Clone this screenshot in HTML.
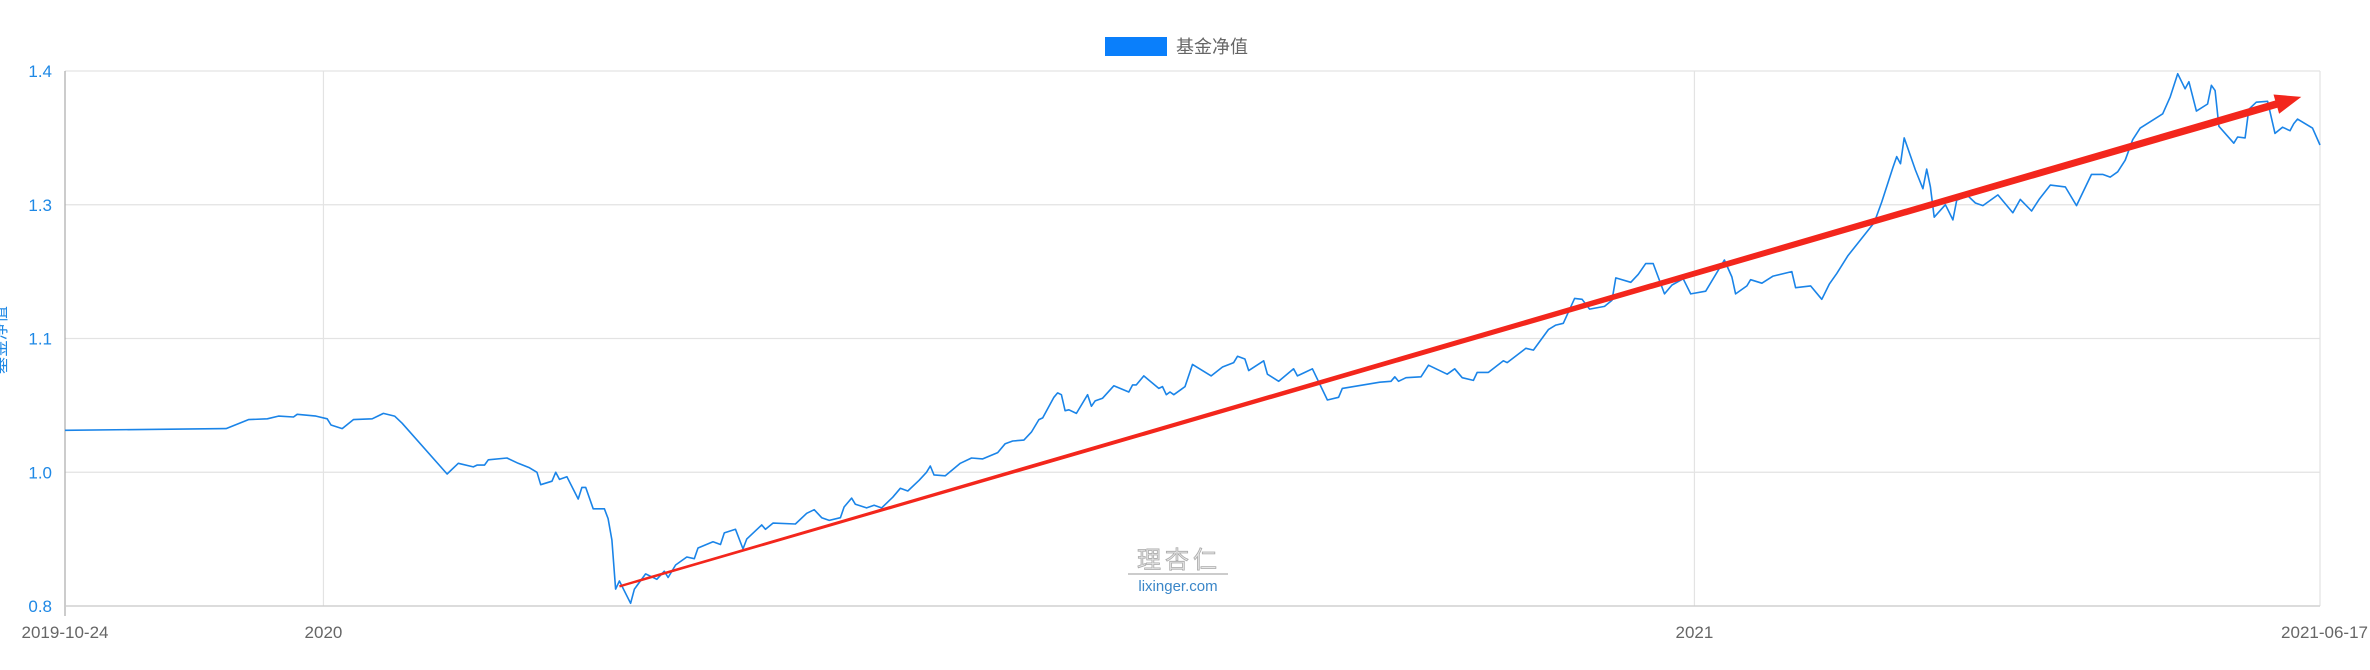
<!DOCTYPE html>
<html><head><meta charset="utf-8">
<style>
html,body{margin:0;padding:0;background:#fff;}
svg{display:block;font-family:"Liberation Sans","Noto Sans CJK SC",sans-serif;}
</style></head>
<body>
<svg id="chart" width="2370" height="670" viewBox="0 0 2370 670" xmlns="http://www.w3.org/2000/svg">
  <g id="grid"></g>
  <g id="yaxis"></g>
  <g id="xaxis"></g>
  <g>
    <rect x="1105" y="37" width="62" height="19" fill="#0a7ffb"/>
    <text x="1176" y="53" font-size="18" fill="#666">基金净值</text>
  </g>
  <text transform="translate(0,340) rotate(-90)" x="0" y="6" font-size="17" fill="#1e88e5" text-anchor="middle">基金净值</text>
  <g>
    <text x="1179" y="568" font-size="24" fill="#e8e8e8" stroke="#aaa" stroke-width="0.8" text-anchor="middle" letter-spacing="4">理杏仁</text>
    <line x1="1128" y1="574" x2="1228" y2="574" stroke="#999" stroke-width="1"/>
    <text x="1178" y="591" font-size="15" fill="#3a86c8" text-anchor="middle">lixinger.com</text>
  </g>
  <g id="series"></g>
  <g id="annot"></g>
</svg>
<script>
// ---- data ----
const yTickValues = [0.8, 0.95, 1.1, 1.25, 1.4];
const yTickLabels = ["0.8", "1.0", "1.1", "1.3", "1.4"];
const xTickDays = [0, 69, 435, 602];
const xTickLabels = ["2019-10-24", "2020", "2021", "2021-06-17"];
const navDays = [0,43,49,54,57,61,62,67,70,71,74,77,82,85,88,90,102,105,109,110,112,113,118,121,124,126,127,130,131,132,134,137,138,139,141,144,145,146,147,148,151,152,155,158,160,161,163,166,168,169,173,175,176,179,181,182,186,187,189,195,198,200,202,204,207,208,210,211,214,216,218,221,223,225,228,230,231,232,235,239,242,245,249,251,253,256,258,260,261,264,265,266,267,268,270,273,274,275,277,280,284,285,286,288,292,293,294,295,296,298,299,301,306,309,312,313,315,316,320,321,324,328,329,331,333,337,340,341,351,354,355,356,358,362,364,366,369,371,373,376,377,380,384,385,390,392,396,398,400,403,405,407,411,413,414,418,420,422,424,427,429,432,434,438,443,445,446,449,450,453,456,461,462,466,469,471,473,476,483,485,488,489,490,491,494,496,497,498,499,502,504,505,508,510,512,516,520,522,525,527,530,534,537,541,544,546,548,550,552,554,560,562,564,566,567,569,572,573,574,575,579,580,582,583,585,588,590,592,594,595,596,600,602];
const navValues = [0.997,0.999,1.009,1.010,1.013,1.012,1.015,1.013,1.010,1.003,0.999,1.009,1.010,1.016,1.013,1.005,0.948,0.960,0.956,0.958,0.958,0.964,0.966,0.960,0.955,0.950,0.936,0.940,0.950,0.942,0.945,0.920,0.933,0.933,0.909,0.909,0.898,0.874,0.819,0.828,0.803,0.819,0.836,0.830,0.839,0.832,0.846,0.855,0.853,0.865,0.872,0.869,0.882,0.886,0.864,0.875,0.891,0.886,0.893,0.892,0.904,0.908,0.899,0.896,0.899,0.911,0.921,0.914,0.910,0.913,0.910,0.922,0.932,0.929,0.941,0.950,0.957,0.947,0.946,0.960,0.966,0.965,0.972,0.982,0.985,0.986,0.995,1.009,1.011,1.034,1.039,1.037,1.019,1.020,1.016,1.037,1.024,1.030,1.033,1.047,1.040,1.048,1.048,1.058,1.044,1.046,1.037,1.040,1.037,1.043,1.046,1.071,1.058,1.068,1.073,1.080,1.077,1.064,1.075,1.060,1.052,1.066,1.058,1.062,1.066,1.031,1.034,1.044,1.051,1.052,1.057,1.052,1.056,1.057,1.070,1.066,1.060,1.066,1.056,1.053,1.062,1.062,1.075,1.073,1.089,1.087,1.110,1.115,1.117,1.145,1.144,1.133,1.136,1.143,1.168,1.163,1.172,1.184,1.184,1.150,1.160,1.167,1.150,1.153,1.188,1.169,1.150,1.159,1.166,1.162,1.170,1.175,1.157,1.159,1.144,1.161,1.173,1.193,1.230,1.253,1.292,1.304,1.296,1.325,1.289,1.268,1.290,1.270,1.236,1.250,1.233,1.255,1.260,1.252,1.249,1.261,1.241,1.256,1.243,1.256,1.272,1.270,1.249,1.284,1.284,1.281,1.287,1.300,1.323,1.336,1.352,1.371,1.397,1.380,1.388,1.355,1.363,1.384,1.378,1.338,1.319,1.326,1.325,1.357,1.365,1.366,1.330,1.337,1.333,1.341,1.346,1.336,1.317];
const arrowDays = [148, 597];
const arrowValues = [0.822, 1.371];

// ---- scales ----
const X0 = 65, X1 = 2320, Y0 = 606, Y1 = 71;
const xScale = d => X0 + (d - 0) / (602 - 0) * (X1 - X0);
const yScale = v => Y0 - (v - 0.8) / (1.4 - 0.8) * (Y0 - Y1);
const NS = "http://www.w3.org/2000/svg";
function mk(tag, attrs, parent){ const e=document.createElementNS(NS,tag); for(const k in attrs) e.setAttribute(k,attrs[k]); parent.appendChild(e); return e; }

const grid = document.getElementById('grid');
const yaxis = document.getElementById('yaxis');
const xaxis = document.getElementById('xaxis');
yTickValues.forEach((v,i)=>{
  const y = yScale(v);
  const l = mk('line',{x1:X0,x2:X1,y1:y,y2:y,stroke:'#e3e3e3','stroke-width':1.2},grid);
  
  
  const t = mk('text',{x:X0-13,y:y+6,'font-size':17,fill:'#1e88e5','text-anchor':'end'},yaxis);
  t.textContent = yTickLabels[i];
  
  
});
xTickDays.forEach((d,i)=>{
  const x = xScale(d);
  if(i>0){
    const l = mk('line',{x1:x,x2:x,y1:Y1,y2:Y0,stroke:'#e3e3e3','stroke-width':1.2},grid);
    
    
  }
  let anchor = 'middle';
  if(i===xTickLabels.length-1) anchor='end';
  const t = mk('text',{x:i===xTickLabels.length-1?2368:x,y:638,'font-size':17,fill:'#666','text-anchor':anchor},xaxis);
  t.textContent = xTickLabels[i];
  
  
});
const ax = mk('line',{x1:X0,x2:X0,y1:Y1,y2:Y0+10,stroke:'#aaa','stroke-width':1.2},yaxis);


const bx = mk('line',{x1:X0,x2:X1,y1:Y0,y2:Y0,stroke:'#ccc','stroke-width':1.2},xaxis);



// series
const pts = navDays.map((d,i)=>xScale(d).toFixed(1)+','+yScale(navValues[i]).toFixed(1)).join(' ');
const line = mk('polyline',{points:pts,fill:'none',stroke:'#1a84e8','stroke-width':1.6,'stroke-linejoin':'round'},document.getElementById('series'));



// trend arrow (tapered)
const ax0=xScale(arrowDays[0]), ay0=yScale(arrowValues[0]), ax1=xScale(arrowDays[1]), ay1=yScale(arrowValues[1]);
const dx=ax1-ax0, dy=ay1-ay0, L=Math.hypot(dx,dy), ux=dx/L, uy=dy/L, nx=-uy, ny=ux;
const headLen=26, bx1=ax1-ux*headLen, by1=ay1-uy*headLen;
const w0=1.2, w1=3.8, hw=10;
const poly = [
 [ax0+nx*w0, ay0+ny*w0],[bx1+nx*w1, by1+ny*w1],[bx1+nx*hw, by1+ny*hw],[ax1,ay1],
 [bx1-nx*hw, by1-ny*hw],[bx1-nx*w1, by1-ny*w1],[ax0-nx*w0, ay0-ny*w0]
].map(p=>p[0].toFixed(1)+','+p[1].toFixed(1)).join(' ');
const arr = mk('polygon',{points:poly,fill:'#f3261c'},document.getElementById('annot'));


</script>
</body></html>
